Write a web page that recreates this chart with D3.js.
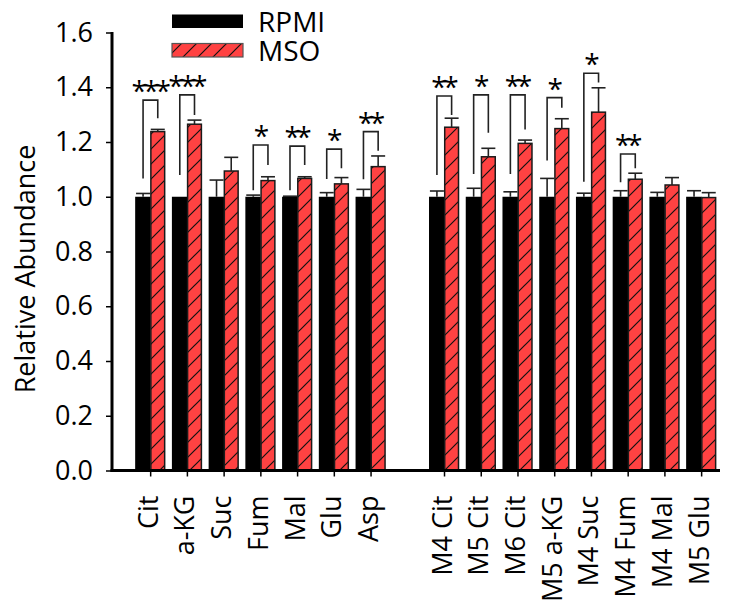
<!DOCTYPE html>
<html>
<head>
<meta charset="utf-8">
<script src="https://cdn.jsdelivr.net/npm/d3@7/dist/d3.min.js"></script>
<style>
  html, body { margin: 0; padding: 0; background: #fff; }
  svg { display: block; }
  text { font-family: "Open Sans", "DejaVu Sans", sans-serif; fill: #000; }
</style>
</head>
<body>
<svg id="chart" width="734" height="607"></svg>
<script>
// ---- data ----
const categories = ["Cit", "a-KG", "Suc", "Fum", "Mal", "Glu", "Asp", "",
  "M4 Cit", "M5 Cit", "M6 Cit", "M5 a-KG", "M4 Suc", "M4 Fum", "M4 Mal", "M5 Glu"];
const seriesNames = ["RPMI", "MSO"];
const rpmiValues = [1, 1, 1, 1, 1, 1, 1, null, 1, 1, 1, 1, 1, 1, 1, 1];
const rpmiErrTop = [1.012, 1.0, 1.061, 1.006, 1.002, 1.015, 1.027, null,
  1.021, 1.031, 1.018, 1.067, 1.013, 1.022, 1.016, 1.022];
const msoValues = [1.238, 1.265, 1.094, 1.059, 1.067, 1.047, 1.110, null,
  1.254, 1.146, 1.195, 1.249, 1.309, 1.064, 1.043, 0.997];
const msoErrTop = [1.246, 1.280, 1.144, 1.073, 1.073, 1.070, 1.149, null,
  1.287, 1.177, 1.207, 1.285, 1.398, 1.086, 1.070, 1.015];
// significance brackets: category, bracket top, left leg bottom, right leg bottom, stars
const sigCats   = ["Cit", "a-KG", "Fum", "Mal", "Glu", "Asp", "M4 Cit", "M5 Cit", "M6 Cit", "M5 a-KG", "M4 Suc", "M4 Fum"];
const sigTop    = [1.353, 1.372, 1.189, 1.185, 1.174, 1.238, 1.368, 1.372, 1.372, 1.362, 1.451, 1.156];
const sigLeft   = [1.067, 1.079, 1.024, 1.024, 1.065, 1.064, 1.079, 1.083, 1.083, 1.132, 1.055, 1.053];
const sigRight  = [1.287, 1.299, 1.116, 1.116, 1.104, 1.168, 1.299, 1.234, 1.246, 1.325, 1.417, 1.104];
const sigStars  = ["***", "***", "*", "**", "*", "**", "**", "*", "**", "*", "*", "**"];
const yTicks = [0, 0.2, 0.4, 0.6, 0.8, 1.0, 1.2, 1.4, 1.6];
const yTitle = "Relative Abundance";

// ---- layout ----
const svg = d3.select("#chart");
const axisX = 112;
const x = d3.scaleBand().domain(categories.map((c, i) => i)).range([132.3, 720]).padding(0);
const y = d3.scaleLinear().domain([0, 1.6]).range([470.5, 32.5]);
const red = "#ff4242";

const defs = svg.append("defs");
const pat = defs.append("pattern").attr("id", "hatch")
  .attr("patternUnits", "userSpaceOnUse").attr("width", 15).attr("height", 15);
pat.append("rect").attr("width", 15).attr("height", 15).attr("fill", red);
pat.append("path").attr("d", "M-2,17 L17,-2 M-4,4 L4,-4 M11,19 L19,11")
  .attr("stroke", "#111").attr("stroke-width", 1.2);

const cx = i => x(i) + x.bandwidth() / 2;
const idx = categories.map((c, i) => i).filter(i => categories[i] !== "");

// RPMI bars
svg.append("g").selectAll("rect").data(idx).join("rect")
  .attr("x", i => cx(i) - 15.5).attr("width", 15.5)
  .attr("y", i => y(rpmiValues[i])).attr("height", i => y(0) - y(rpmiValues[i]))
  .attr("fill", "#000");
// MSO bars
svg.append("g").selectAll("rect").data(idx).join("rect")
  .attr("x", i => cx(i) + 0.2).attr("width", 13.8)
  .attr("y", i => y(msoValues[i])).attr("height", i => y(0) - y(msoValues[i]))
  .attr("fill", "url(#hatch)").attr("stroke", "#1a1a1a").attr("stroke-width", 1.5);

// error bars
const eg = svg.append("g").attr("stroke", "#222").attr("stroke-width", 1.6).attr("fill", "none");
idx.forEach(i => {
  const bx = cx(i) - 7.6, rx = cx(i) + 7.1;
  [[bx, rpmiValues[i], rpmiErrTop[i]], [rx, msoValues[i], msoErrTop[i]]].forEach(([xx, v, e]) => {
    if (e > v + 0.001) {
      eg.append("line").attr("x1", xx).attr("x2", xx).attr("y1", y(v)).attr("y2", y(e));
      eg.append("line").attr("x1", xx - 7).attr("x2", xx + 7).attr("y1", y(e)).attr("y2", y(e));
    }
  });
});

// significance brackets
const sg = svg.append("g");
sigCats.forEach((c, k) => {
  const i = categories.indexOf(c);
  const lx = cx(i) - 7.6, rx = cx(i) + 7.1;
  sg.append("path")
    .attr("d", `M${lx},${y(sigLeft[k])} L${lx},${y(sigTop[k])} L${rx},${y(sigTop[k])} L${rx},${y(sigRight[k])}`)
    .attr("fill", "none").attr("stroke", "#222").attr("stroke-width", 1.6);
  sg.append("text").attr("x", (lx + rx) / 2 - 1).attr("y", y(sigTop[k]) + 1)
    .attr("text-anchor", "middle").attr("font-size", 28).attr("letter-spacing", -3.5)
    .attr("fill", "#222").text(sigStars[k]);
});

// y axis
const yAxis = d3.axisLeft(y).tickValues(yTicks).tickFormat(d3.format(".1f")).tickSize(6).tickPadding(13);
const yg = svg.append("g").attr("transform", `translate(${axisX},0)`).call(yAxis);
yg.select(".domain").remove();
yg.selectAll(".tick line").attr("stroke", "#000").attr("stroke-width", 1.5);
yg.selectAll(".tick text").attr("font-size", 27).attr("font-family", "Open Sans").attr("fill", "#000");
svg.append("line").attr("x1", axisX).attr("x2", axisX).attr("y1", y(1.6) - 0.5).attr("y2", y(0) + 1.5)
  .attr("stroke", "#000").attr("stroke-width", 3);

// x axis
const xAxis = d3.axisBottom(x).tickSize(6).tickFormat(i => categories[i]);
const xg = svg.append("g").attr("transform", `translate(0,${y(0)})`).call(xAxis);
xg.select(".domain").remove();
xg.selectAll(".tick").filter(i => categories[i] === "").remove();
xg.selectAll(".tick line").attr("stroke", "#000").attr("stroke-width", 1.5);
xg.selectAll(".tick text")
  .attr("font-size", 27).attr("font-family", "Open Sans").attr("fill", "#000")
  .attr("text-anchor", "end").attr("transform", "translate(0,25) rotate(-90)")
  .attr("x", 0).attr("y", 7).attr("dy", 0);
svg.append("line").attr("x1", axisX - 1.5).attr("x2", 720).attr("y1", y(0)).attr("y2", y(0))
  .attr("stroke", "#000").attr("stroke-width", 3);

// y title
svg.append("text").attr("transform", "translate(35,269) rotate(-90)")
  .attr("text-anchor", "middle").attr("font-size", 27).text(yTitle);

// legend
const lg = svg.append("g");
lg.append("rect").attr("x", 172).attr("y", 14.5).attr("width", 71).attr("height", 13.5).attr("fill", "#000");
lg.append("rect").attr("x", 172).attr("y", 43.5).attr("width", 71).attr("height", 13.5)
  .attr("fill", "url(#hatch)").attr("stroke", "#555").attr("stroke-width", 1.2);
lg.append("text").attr("x", 258).attr("y", 32).attr("font-size", 28).text(seriesNames[0]);
lg.append("text").attr("x", 258).attr("y", 60.5).attr("font-size", 28).text(seriesNames[1]);
</script>
</body>
</html>
